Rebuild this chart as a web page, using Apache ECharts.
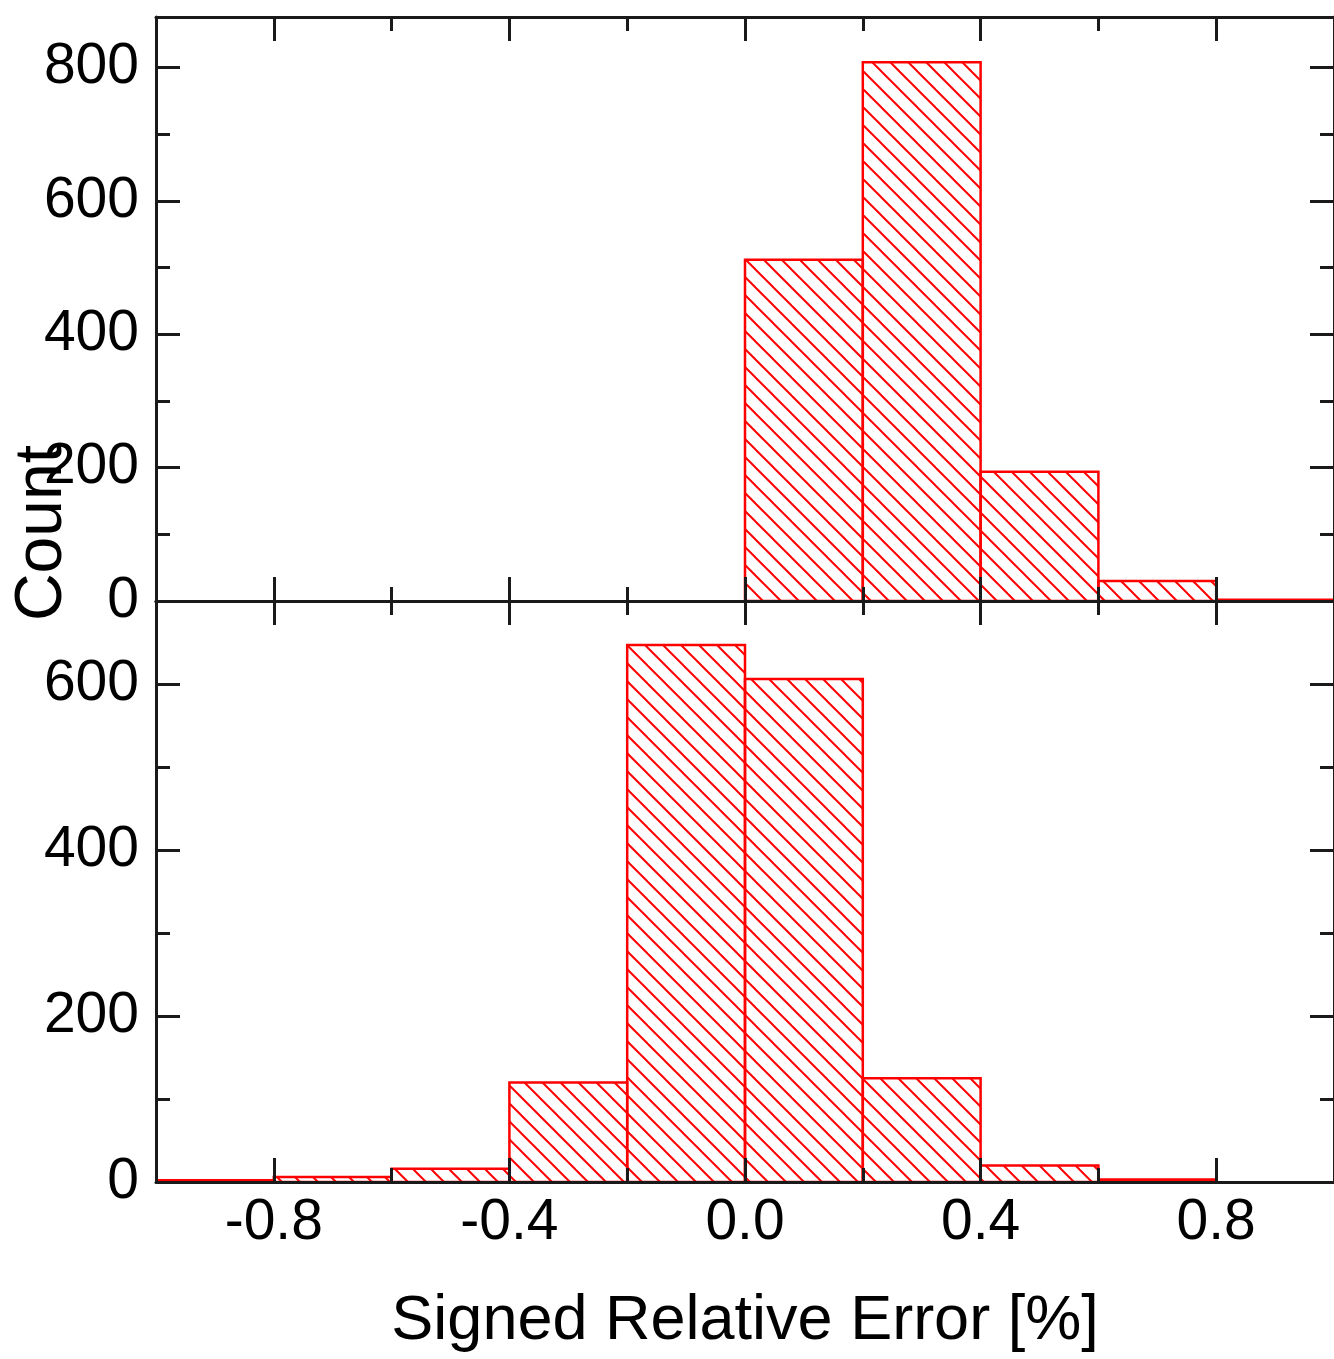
<!DOCTYPE html>
<html>
<head>
<meta charset="utf-8">
<script src="https://cdn.jsdelivr.net/npm/echarts@6/dist/echarts.min.js"></script>
<style>
  html, body { margin: 0; padding: 0; background: #ffffff; }
  #chart { width: 1334px; height: 1359px; }
</style>
</head>
<body>
<div id="chart"></div>
<script>
// ---- data ----
const binEdges = [-1.0, -0.8, -0.6, -0.4, -0.2, 0.0, 0.2, 0.4, 0.6, 0.8, 1.0];
const topCounts = [0, 0, 0, 0, 0, 512, 808, 194, 30, 2];
const bottomCounts = [2, 6, 16, 120, 647, 606, 125, 20, 3, 0];
const xMajorTicks = [-0.8, -0.4, 0.0, 0.4, 0.8];
const xMinorTicks = [-0.6, -0.2, 0.2, 0.6];
const topYMajorTicks = [0, 200, 400, 600, 800];
const topYMinorTicks = [100, 300, 500, 700];
const bottomYMajorTicks = [0, 200, 400, 600];
const bottomYMinorTicks = [100, 300, 500];
const xTitle = 'Signed Relative Error [%]';
const yTitle = 'Count';

// ---- style ----
const FONT = "'Liberation Sans', Arial, sans-serif";
const AXIS_COLOR = '#1a1a1a';
const RED = '#ff0000';

// hatch pattern
const tile = document.createElement('canvas');
tile.width = 18; tile.height = 18;
(function () {
  const c = tile.getContext('2d');
  c.strokeStyle = RED;
  c.lineWidth = 2;
  for (const k of [-18, 0, 18]) {
    c.beginPath();
    c.moveTo(k - 1, -1);
    c.lineTo(k + 19, 19);
    c.stroke();
  }
})();
const hatch = { image: tile, repeat: 'repeat' };

function binData(counts) {
  const out = [];
  for (let i = 0; i < counts.length; i++) {
    if (counts[i] > 0) out.push([binEdges[i], binEdges[i + 1], counts[i]]);
  }
  return out;
}

const grids = [
  { left: 156, width: 1182, top: 17, height: 584 },
  { left: 156, width: 1182, top: 601, height: 581 }
];
const yMax = [876, 700];
const yMajor = [topYMajorTicks, bottomYMajorTicks];
const yMinor = [topYMinorTicks, bottomYMinorTicks];

const xAxes = [];
const yAxes = [];
const MAJ = 24, MIN = 14;

function xAx(g, pos, ticks, len, showLine, showLabel, extra) {
  return Object.assign({
    type: 'value', gridIndex: g, position: pos, min: -1, max: 1, z: 5,
    axisLine: { show: showLine, onZero: false, lineStyle: { color: AXIS_COLOR, width: 3 } },
    axisTick: { show: true, inside: true, length: len, customValues: ticks, lineStyle: { color: AXIS_COLOR, width: 3 } },
    axisLabel: showLabel ? {
      show: true, customValues: ticks, margin: 13, color: '#000', fontSize: 57, fontFamily: FONT,
      formatter: v => v.toFixed(1)
    } : { show: false },
    splitLine: { show: false }
  }, extra || {});
}
function yAx(g, pos, ticks, len, showLine, showLabel) {
  return {
    type: 'value', gridIndex: g, position: pos, min: 0, max: yMax[g], z: 5,
    axisLine: { show: showLine, onZero: false, lineStyle: { color: AXIS_COLOR, width: 3 } },
    axisTick: { show: true, inside: true, length: len, customValues: ticks, lineStyle: { color: AXIS_COLOR, width: 3 } },
    axisLabel: showLabel ? {
      show: true, customValues: ticks, margin: 17, color: '#000', fontSize: 57, fontFamily: FONT
    } : { show: false },
    splitLine: { show: false }
  };
}

for (let g = 0; g < 2; g++) {
  const isBottom = g === 1;
  const xIdx = xAxes.length;
  xAxes.push(xAx(g, 'bottom', xMajorTicks, MAJ, true, isBottom, isBottom ? {
    name: xTitle, nameLocation: 'middle', nameGap: 108,
    nameTextStyle: { color: '#000', fontSize: 63, fontFamily: FONT }
  } : null));
  xAxes.push(xAx(g, 'bottom', xMinorTicks, MIN, false, false));
  xAxes.push(xAx(g, 'top', xMajorTicks, MAJ, true, false));
  xAxes.push(xAx(g, 'top', xMinorTicks, MIN, false, false));
  const yIdx = yAxes.length;
  yAxes.push(yAx(g, 'left', yMajor[g], MAJ, true, true));
  yAxes.push(yAx(g, 'left', yMinor[g], MIN, false, false));
  yAxes.push(yAx(g, 'right', yMajor[g], MAJ, true, false));
  yAxes.push(yAx(g, 'right', yMinor[g], MIN, false, false));
  grids[g].xIdx = xIdx; grids[g].yIdx = yIdx;
}

function histSeries(g, counts) {
  return {
    type: 'custom',
    coordinateSystem: 'cartesian2d',
    xAxisIndex: grids[g].xIdx,
    yAxisIndex: grids[g].yIdx,
    z: 2,
    clip: true,
    encode: { x: [0, 1], y: 2 },
    data: binData(counts),
    renderItem: function (params, api) {
      const p0 = api.coord([api.value(0), api.value(2)]);
      const p1 = api.coord([api.value(1), 0]);
      return {
        type: 'rect',
        shape: { x: p0[0], y: p0[1], width: p1[0] - p0[0], height: p1[1] - p0[1] },
        style: { fill: hatch, stroke: RED, lineWidth: 2.5 }
      };
    }
  };
}

const chart = echarts.init(document.getElementById('chart'), null, { renderer: 'canvas' });
chart.setOption({
  backgroundColor: '#ffffff',
  animation: false,
  grid: grids.map(g => ({ left: g.left, width: g.width, top: g.top, height: g.height, containLabel: false })),
  xAxis: xAxes,
  yAxis: yAxes,
  graphic: [{
    type: 'text',
    left: 10, top: 445,
    rotation: Math.PI / 2,
    style: { text: yTitle, fill: '#000', fontSize: 66, fontFamily: FONT }
  }],
  series: [histSeries(0, topCounts), histSeries(1, bottomCounts)]
});
</script>
</body>
</html>
